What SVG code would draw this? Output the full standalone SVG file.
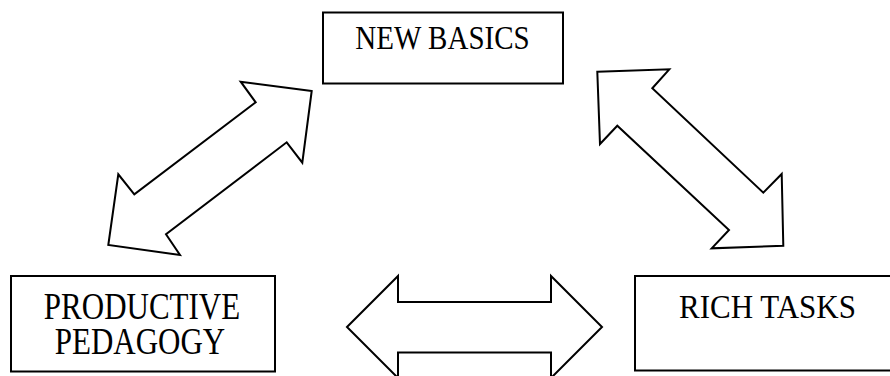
<svg xmlns="http://www.w3.org/2000/svg" width="890" height="376" viewBox="0 0 890 376">
<style>
.box{fill:#fff;stroke:#000;stroke-width:2}
.arr{fill:#fff;stroke:#000;stroke-width:2;stroke-linejoin:miter}
text{font-family:"Liberation Serif","Times New Roman",serif;fill:#000;text-anchor:middle}
</style>
<rect width="890" height="376" fill="#fff"/>
<g id="connectors">
<polygon class="arr" points="311.7,91 240.7,81.7 255.7,102.3 134.3,194.3 118.3,174.3 108.3,245 180,255 166,234.3 286.7,142.3 302.3,162.7"/>
<polygon class="arr" points="597.3,71.7 669.3,69.3 652.3,88.3 763.3,192.7 781.7,174 783.3,245.7 711.7,248.3 729,230 617.3,125.7 600,144"/>
<polygon class="arr" points="347,327 398,276 398,302 551,302 551,276 602,327 551,378 551,352.5 398,352.5 398,378"/>
</g>
<g id="new-basics">
<rect class="box" x="323" y="12.5" width="240" height="71"/>
<text transform="translate(442.5,49.3) scale(1,1.15)" font-size="29">NEW BASICS</text>
</g>
<g id="productive-pedagogy">
<rect class="box" x="11" y="276" width="264" height="95.5"/>
<text transform="translate(142,319.3) scale(1,1.2)" font-size="31">PRODUCTIVE</text>
<text transform="translate(140,354) scale(1,1.2)" font-size="31">PEDAGOGY</text>
</g>
<g id="rich-tasks">
<rect class="box" x="635" y="276" width="260" height="94.5"/>
<text transform="translate(767.5,318.3) scale(1,1.08)" font-size="31">RICH TASKS</text>
</g>
</svg>
